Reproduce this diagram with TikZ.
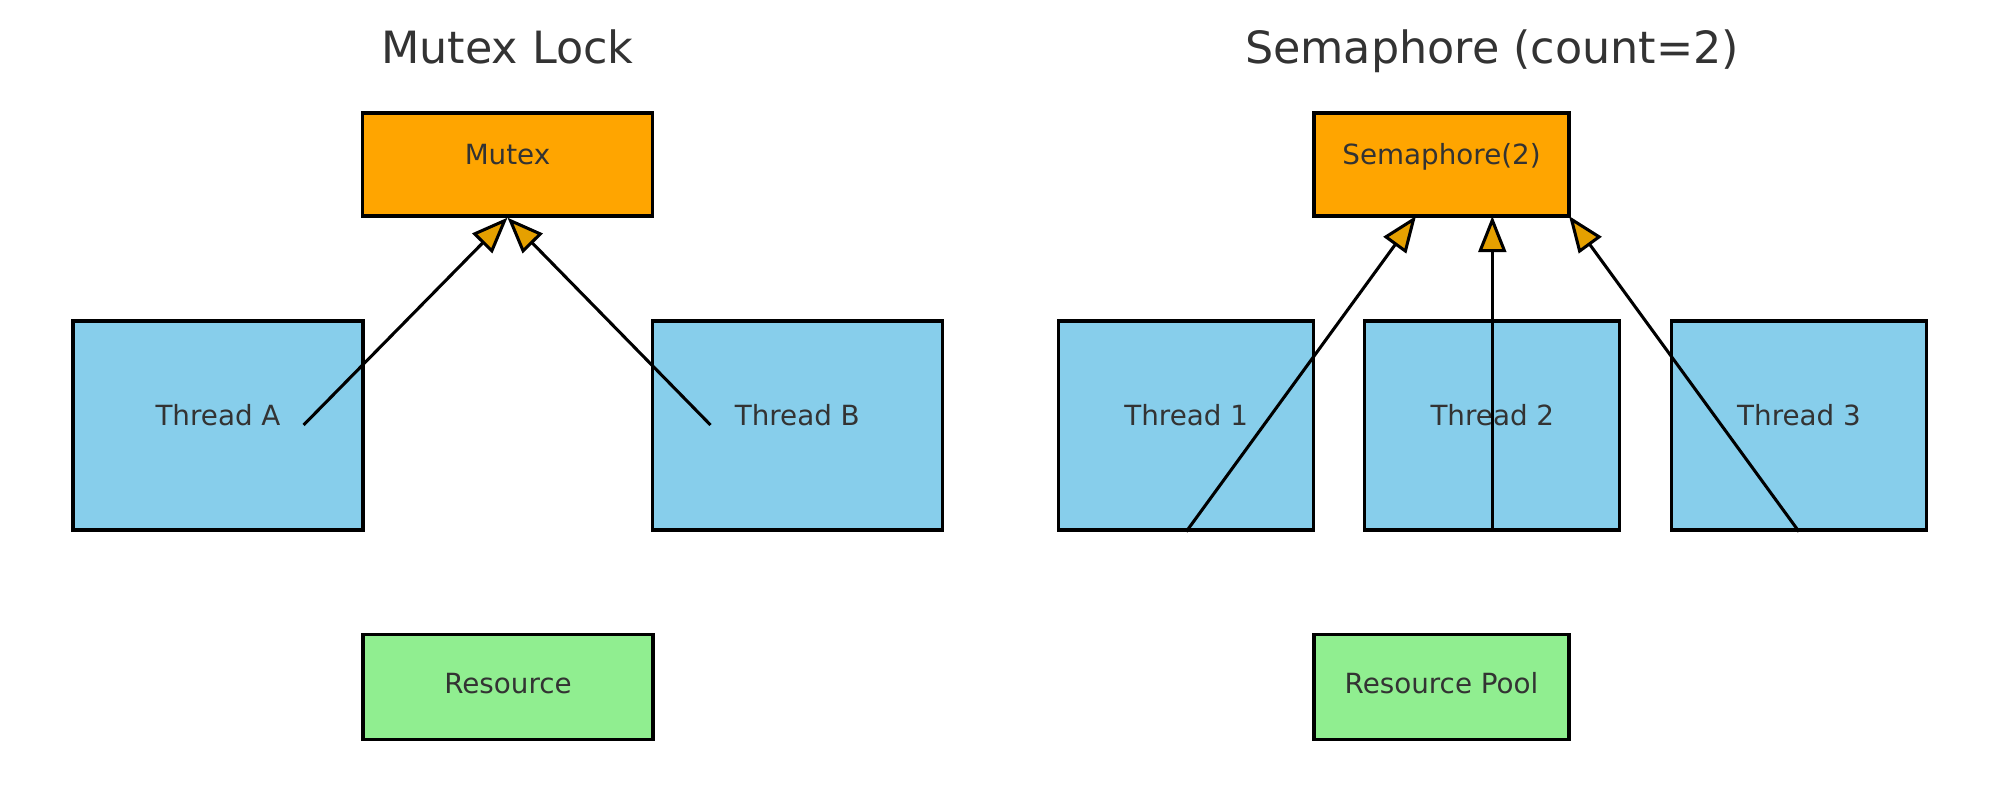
\documentclass[tikz,border=0pt]{standalone}
\usepackage{fontspec}
\setmainfont{DejaVu Sans}
\usetikzlibrary{arrows.meta}
\definecolor{txt}{HTML}{333333}
\definecolor{orangebox}{HTML}{FFA500}
\definecolor{bluebox}{HTML}{87CEEB}
\definecolor{greenbox}{HTML}{90EE90}
\definecolor{headcol}{HTML}{E5A000}
\begin{document}
\begin{tikzpicture}[x=0.36pt,y=-0.36pt,
  box/.style={draw=black,line width=1.2pt,inner sep=0pt,text=txt,
    font=\fontsize{10}{12}\selectfont,text height=0pt,text depth=0pt},
  lockbox/.style={box,fill=orangebox,minimum height=37.08pt},
  threadbox/.style={box,fill=bluebox,minimum height=75.24pt},
  resbox/.style={box,fill=greenbox,minimum height=37.66pt,text height=5pt},
  wide/.style={minimum width=104.4pt},
  narrow/.style={minimum width=91.8pt},
  titletext/.style={text=txt,font=\fontsize{16}{19}\selectfont,anchor=base,inner sep=0pt},
  conn/.style={draw=black,line width=1.1pt,-{Triangle[length=13pt,width=10pt,fill=headcol]}}
]
\useasboundingbox (0,0) rectangle (2000,800);
\fill[white] (0,0) rectangle (2000,800);

% titles
\node[titletext] (title1) at (507.5,63.3) {Mutex Lock};
\node[titletext] (title2) at (1492,63.3) {Semaphore (count=2)};

% mutex side
\node[lockbox,wide] (mutex) at (507.5,164.5) {Mutex};
\node[threadbox,wide] (ta) at (218,425.5) {Thread A};
\node[threadbox,wide] (tb) at (797.3,425.5) {Thread B};
\node[resbox,wide] (res) at (508,687) {Resource};

% semaphore side
\node[lockbox,narrow] (sem) at (1441.5,164.5) {Semaphore(2)};
\node[threadbox,narrow] (t1) at (1186.2,425.5) {Thread 1};
\node[threadbox,narrow] (t2) at (1492.3,425.5) {Thread 2};
\node[threadbox,narrow] (t3) at (1799,425.5) {Thread 3};
\node[resbox,narrow] (pool) at (1441.5,687) {Resource Pool};

% connector end points
\coordinate (aS) at (303.6,425);
\coordinate (bS) at (710.5,425);
\coordinate (e1) at (1416,216);
\coordinate (e2) at (1492.3,216);
\coordinate (e3) at (1569,216);

\draw[conn] (aS) -- (mutex.south);
\draw[conn] (bS) -- (mutex.south);
\draw[conn] (t1.south) -- (e1);
\draw[conn] (t2.south) -- (e2);
\draw[conn] (t3.south) -- (e3);
\end{tikzpicture}
\end{document}
